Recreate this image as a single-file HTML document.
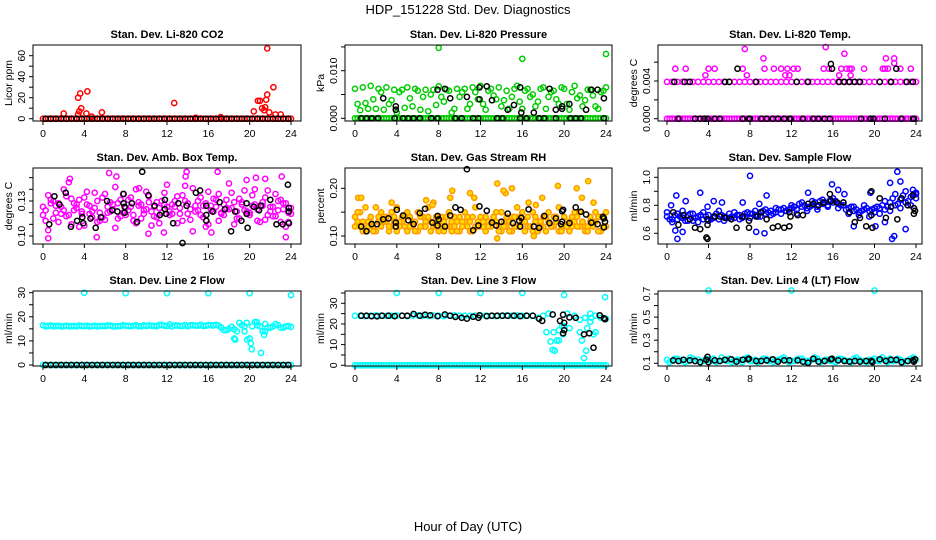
<!DOCTYPE html>
<html><head><meta charset="utf-8">
<style>
html,body{margin:0;padding:0;background:#fff;}
svg{display:block;font-family:"Liberation Sans",sans-serif;}
</style></head>
<body>
<svg id="chart" width="936" height="540" viewBox="0 0 936 540">
<text x="468" y="14" font-size="13" text-anchor="middle">HDP_151228  Std. Dev. Diagnostics</text>
<text x="468" y="531" font-size="13" text-anchor="middle">Hour of Day (UTC)</text>
</svg>
<script>
// ---------- data ----------
const zeros49 = [0,0,0,0,0,0,0,0,0,0,0,0,0,0,0,0,0,0,0,0,0,0,0,0,0,0,0,0,0,0,0,0,0,0,0,0,0,0,0,0,0,0,0,0,0,0,0,0,0];
const xTickLabels = [0,4,8,12,16,20,24];

// P1 CO2
const co2SpikeHours = [2,3.4,3.6,3.7,3.5,3.4,4.3,4.2,4.7,5.7,12.7,20.4,20.8,21,21.2,21.4,21.5,21.7,21.7,21.6,22.3,21.9,22.5,23,17.2,14.8];
const co2SpikeVals  = [5,20,24,10,7,4,26,5,2,6,15,7,17,17,10,8,11,67,23,18,30,6,4,4,1.5,1];

// P2 Pressure
const presA = [.0062,.0017,.0032,.0068,.0020,.0055,.0065,.0038,.0012,.0060,.0065,.0025,.0058,.0045,.0015,.0060,.0067,.0035,.0058,.0020,.0045,.0062,.0030,.0055,.0068,.0018,.0062,.0040,.0025,.0058,.0045,.0068,.0020,.0062,.0050,.0035,.0065,.0045,.0058,.0030,.0062,.0018,.0068,.0048,.0038,.0060,.0025,.0055,.0065];
const presB = [.0030,.0065,.0020,.0040,.0062,.0018,.0030,.0060,.0055,.0022,.0042,.0062,.0018,.0060,.0050,.0028,.0045,.0060,.0012,.0062,.0055,.0020,.0065,.0040,.0030,.0058,.0048,.0065,.0038,.0020,.0062,.0035,.0058,.0045,.0025,.0062,.0020,.0055,.0040,.0065,.0030,.0055,.0042,.0025,.0060,.0048,.0020,.0058];
const presOutHours = [8,16,24];
const presOutVals = [.0148,.0125,.0135];
const presBlkHours = [2.7,3.9,3.9,7.9,8.6,9.1,10.7,11.9,11.9,12.6,13.1,14.6,15.2,15.8,15.9,17.1,18.6,19.2,19.8,19.8,20.5,22.1,22.6,23.2,23.8,0.6,1.1,1.6,2.2,3.8,4.6,5.1,5.6,6.2,7.3,7.9,9.6,10.2,11.3,11.8,13.6,14.1,15.8,16.4,17.6,18.1,19.2,20.6,21.1,21.6,23.8];
const presBlkVals = [.0042,.0025,.0018,.006,.0062,.0042,.0045,.0065,.004,.0067,.0038,.0018,.0028,.0065,.0012,.0012,.0062,.0018,.0025,.002,.003,.0018,.006,.006,.0042,0,0,0,0,0,0,0,0,0,0,0,0,0,0,0,0,0,0,0,0,0,0,0,0,0,0];

// P3 Li-820 Temp
const tempBand = [.0039,.0039,.0039,.0039,.0039,.0039,.0039,.0039,.0039,.0039,.0039,.0039,.0039,.0039,.0039,.0039,.0039,.0039,.0039,.0039,.0039,.0039,.0039,.0039,.0039,.0039,.0039,.0039,.0039,.0039,.0039,.0039,.0039,.0039,.0039,.0039,.0039,.0039,.0039,.0039,.0039,.0039,.0039,.0039,.0039,.0039,.0039,.0039,.0039];
const tempOutHours = [0.8,1.8,3.7,4.0,4.6,7.3,7.5,7.7,9.3,9.4,10.3,11.0,11.4,11.6,11.8,12.2,12.6,15.1,15.3,15.6,16.6,16.8,17.1,17.3,17.6,17.7,17.8,19.0,20.8,21.1,21.0,21.3,21.9,21.9,22.5,23.5];
const tempOutVals = [.0053,.0053,.0046,.0053,.0053,.0053,.0074,.0046,.0064,.0053,.0053,.0053,.0046,.0053,.0046,.0053,.0053,.0053,.0076,.0053,.0046,.0053,.0069,.0053,.0053,.0046,.0053,.0053,.0053,.0064,.0053,.0053,.0064,.0059,.0053,.0053];
const tempBlkHours = [0.7,1.7,2.2,5.6,6.0,8.6,12.5,13.6,16.6,17.1,17.6,18.1,18.6,20.5,21.6,23.1,23.7,6.8,15.9,22.1,15.8,1.1,2.7,3.2,3.6,3.9,4.6,5.1,7.3,7.9,8.0,9.1,9.6,10.2,10.7,11.3,11.8,11.9,13.1,14.1,14.6,15.2,15.7,18.7,19.6,19.9,21.0,22.6,23.7,23.8];
const tempBlkVals = [.0039,.0039,.0039,.0039,.0039,.0039,.0039,.0039,.0039,.0039,.0039,.0039,.0039,.0039,.0039,.0039,.0039,.0053,.0053,.0053,.0058,0,0,0,0,0,0,0,0,0,0,0,0,0,0,0,0,0,0,0,0,0,0,0,0,0,0,0,0,0];

// P4 Amb Box Temp
const ambA = [.125,.135,.115,.128,.140,.118,.122,.131,.109,.126,.137,.120,.114,.129,.142,.117,.124,.133,.111,.127,.138,.121,.116,.130,.125,.119,.134,.113,.128,.141,.122,.126,.110,.132,.136,.118,.123,.129,.115,.139,.120,.127,.112,.133,.125,.117,.131,.108,.124];
const ambB = [.118,.105,.130,.112,.122,.146,.128,.108,.133,.119,.124,.113,.136,.121,.107,.131,.118,.125,.140,.115,.123,.109,.129,.120,.144,.127,.111,.135,.119,.104,.130,.116,.138,.121,.113,.127,.145,.110,.132,.122,.118,.140,.126,.114,.121,.136,.112,.128,.119];
const ambC = [.122,.128,.120,.125,.117,.132,.124,.119,.127,.121,.130,.116,.125,.123,.128,.120,.131,.118,.126,.122,.129,.117,.124,.127,.121,.125,.119,.130,.123,.126,.118,.128,.122,.125,.120,.131,.124,.121,.127,.119,.126,.123,.129,.118,.125,.122,.128,.120];
const ambD = [.113,.131,.126,.119,.134,.110,.127,.121,.138,.116,.112,.133,.120,.127,.115,.136,.122,.113,.129,.119,.134,.125,.111,.137,.118,.130,.124,.143,.114,.121,.133,.108,.126,.131,.119,.124,.137,.115,.129,.121,.135,.113,.126,.139,.117,.130,.123,.112];
const ambOutHours = [2.6,6.4,7.1,9.3,10.2,11.7,13.8,13.9,16.3,16.9,19.7,20.6,21.5,23.1,23.5,0.5,5.2];
const ambOutVals = [.149,.154,.151,.141,.102,.103,.151,.155,.103,.155,.148,.150,.149,.151,.099,.098,.099];
const ambBlkHours = [0.6,1.1,1.6,2.2,2.7,3.3,3.8,3.9,4.6,5.1,5.6,6.2,6.7,7.2,7.9,7.9,7.8,7.8,8.6,9.1,9.6,10.2,10.8,11.3,11.8,11.9,11.8,12.6,13.1,13.5,13.9,14.8,15.2,15.8,15.8,15.8,16.4,17.1,17.6,18.2,18.6,19.2,19.7,19.7,19.8,20.4,20.9,21.1,22.0,22.6,23.2,23.7,23.8,23.8,23.8];
const ambBlkVals = [.110,.134,.127,.137,.108,.113,.116,.111,.115,.107,.116,.130,.122,.121,.125,.120,.128,.136,.128,.112,.155,.135,.126,.118,.123,.119,.131,.111,.128,.094,.126,.137,.139,.126,.118,.113,.121,.129,.123,.104,.121,.113,.119,.128,.107,.125,.122,.126,.131,.110,.110,.144,.121,.124,.111];

// P5 Gas Stream RH
const rhA = [.14,.12,.16,.13,.11,.15,.13,.12,.16,.14,.11,.13,.15,.12,.14,.17,.11,.13,.15,.12,.14,.13,.11,.16,.12,.14,.13,.15,.11,.12,.14,.16,.13,.12,.15,.11,.14,.13,.12,.16,.14,.11,.13,.15,.12,.14,.13,.11,.15];
const rhB = [.12,.15,.11,.14,.16,.12,.14,.15,.11,.13,.15,.12,.11,.14,.16,.12,.13,.11,.12,.14,.11,.15,.13,.12,.14,.11,.12,.13,.15,.14,.11,.12,.15,.14,.11,.13,.12,.15,.14,.11,.12,.13,.15,.12,.11,.13,.15,.14,.12];
const rhC = [.13,.11,.13,.12,.14,.13,.11,.14,.13,.12,.14,.13,.12,.13,.11,.14,.12,.14,.13,.11,.13,.12,.14,.13,.12,.13,.14,.12,.13,.11,.14,.12,.13,.12,.14,.13,.11,.12,.14,.12,.13,.12,.14,.13,.12,.13,.11,.14];
const rhD = [.15,.13,.12,.11,.13,.14,.12,.13,.12,.14,.12,.11,.14,.12,.13,.12,.14,.12,.11,.13,.12,.14,.11,.12,.13,.12,.14,.11,.12,.13,.12,.14,.11,.12,.13,.12,.14,.12,.13,.11,.12,.14,.12,.13,.11,.12,.14,.12];
const rhOutHours = [0.3,0.6,3.5,6.8,7.4,9.3,9.1,11.0,11.4,13.6,14.4,14.2,15.0,16.6,17.3,17.9,19.4,21.2,21.7,22.3,22.8,13.6,17.1];
const rhOutVals = [.18,.18,.17,.175,.165,.195,.18,.19,.18,.21,.19,.195,.20,.17,.165,.18,.205,.20,.18,.215,.17,.095,.100];
const rhBlkHours = [0.6,1.1,1.6,2.1,2.7,3.2,3.9,3.9,4.0,4.6,5.1,5.6,6.2,6.7,7.4,7.9,8.0,7.9,8.6,9.1,9.6,10.1,11.3,11.8,11.9,12.6,13.1,13.5,14.0,14.6,15.1,15.7,15.8,15.9,16.6,17.1,17.6,18.1,18.6,19.2,19.7,19.8,19.8,19.9,20.5,21.1,21.6,22.1,22.6,23.2,23.7,23.8,23.8,23.9,10.7];
const rhBlkVals = [.12,.11,.125,.125,.135,.137,.128,.12,.155,.143,.133,.125,.148,.157,.128,.142,.135,.122,.12,.143,.16,.155,.112,.122,.162,.153,.128,.122,.13,.147,.127,.132,.12,.138,.156,.12,.117,.142,.127,.137,.125,.13,.152,.155,.127,.16,.151,.145,.128,.125,.14,.118,.137,.13,.24];

// P6 Sample Flow
const flowA = [.72,.70,.74,.71,.73,.69,.72,.70,.73,.71,.70,.72,.74,.71,.73,.72,.74,.73,.75,.74,.76,.75,.77,.76,.78,.77,.79,.78,.80,.79,.81,.80,.82,.81,.80,.78,.76,.75,.77,.76,.75,.78,.77,.82,.80,.84,.82,.86,.85];
const flowB = [.75,.68,.70,.76,.69,.74,.68,.75,.69,.72,.76,.69,.71,.75,.70,.74,.71,.76,.72,.77,.73,.78,.74,.76,.80,.74,.82,.76,.83,.77,.84,.79,.85,.78,.82,.74,.79,.73,.80,.72,.78,.74,.83,.76,.88,.78,.90,.80,.88];
const flowC = [.70,.73,.72,.69,.74,.71,.73,.72,.70,.74,.73,.71,.72,.73,.71,.75,.74,.72,.76,.75,.74,.77,.78,.77,.79,.81,.80,.79,.82,.83,.82,.84,.83,.80,.77,.79,.77,.76,.78,.77,.79,.80,.79,.85,.81,.87,.83,.88];
const flowOutHours = [0.4,0.9,1.0,1.5,1.8,0.8,3.2,3.9,4.5,5.3,7.3,8.0,8.6,9.4,9.6,8.9,13.6,15.9,16.5,17.1,18.0,19.6,20.1,21.0,21.5,21.7,21.9,22.2,22.5,23.0,23.7,24];
const flowOutVals = [.80,.87,.56,.61,.83,.62,.89,.79,.83,.82,.82,1.01,.61,.60,.87,.81,.89,.95,.91,.88,.65,.89,.65,.68,.96,.56,.58,1.04,.97,.63,.91,.89];
const flowBlkHours = [0.6,1.1,1.6,2.2,2.7,3.2,3.8,3.9,3.9,3.9,4.6,5.1,5.6,6.2,6.7,7.3,7.9,7.9,8.6,9.1,9.6,10.2,10.7,11.3,11.8,11.8,11.9,12.6,13.1,13.6,14.1,14.6,15.1,15.7,15.8,16.4,17.0,17.6,18.1,18.6,19.2,19.7,19.7,19.8,20.5,21.1,21.6,22.2,22.6,23.2,23.8,23.8,23.7,23.9];
const flowBlkVals = [.75,.66,.73,.70,.64,.63,.57,.56,.66,.70,.72,.72,.71,.70,.64,.72,.69,.64,.72,.75,.70,.64,.65,.64,.65,.75,.72,.73,.73,.81,.81,.80,.82,.88,.83,.82,.82,.75,.68,.71,.65,.73,.90,.64,.85,.71,.79,.70,.85,.80,.78,.74,.87,.76];

// P7 Line 2 Flow
const l2A = [16.5,16.2,16,16.3,16.1,16,16.2,16.4,16.1,16,16.3,16.2,16.1,16.4,16,16.2,16.3,16.1,16.5,16,16.2,16.3,16.1,16.6,16.2,16,16.4,16.2,16.1,16.5,16.3,16.2,16.6,16.4,16.3,14.5,15,14.8,17.5,16,11,17.8,16,14,15.5,17,15.5,16,15.8];
const l2B = [16,16.4,16.2,16,16.3,16.1,16,16.2,16.3,16.1,16,16.2,16.4,16,16.1,16.5,16.2,16.3,16.1,16.5,16.4,16.2,16.6,16.3,16.8,16.4,16.2,16.6,16.5,16.4,16.7,16.3,16.5,16.7,15.5,14.5,15.8,14,16.5,10.5,16,16.5,14,15.5,16,16.5,15.5,16.2];
const l2OutHours = [4,8,12,16,20,24,18.5,18.6,20,20.1,20.2,21.1,21.4,20.7,21.5,19.7,19.5];
const l2OutVals = [30,29.8,29.8,29.8,29.8,29,11,10.5,11,9,6.5,5,12.5,17.8,17,17.5,14];

// P8 Line 3 Flow
const l3A = [24,24,23.8,24,24.2,24,23.9,24,24.1,24,23.8,24,24.2,24,23.9,24.1,24,23.8,24,24.2,24,24,23.9,24,24.1,24,24,23.8,24,24.1,24,24.2,23.9,24,24,23,24,25,16,12,19,18,24,22,23,21,24,23,22.5];
const l3OutHours = [18.3,18.7,18.9,19.1,19.3,19.5,19.8,19.9,20.3,21.5,21.7,21.9,22.1,22.2,22.5,22.8,23.0,22.6,23.9,4,8,12,16,20];
const l3OutVals = [16,11.5,7.5,7,12,17,19,15,25,16,12,3.5,7,18,25,15,16,23,33,35,35,35,35,34];
const l3BlkHours = [0.6,1.1,1.6,2.1,2.6,3.2,3.8,4.5,5,5.6,6.2,6.7,7.2,7.9,8.6,9.1,9.6,10.2,10.7,11.3,11.8,11.9,12.6,13.1,13.6,14.1,14.6,15.2,15.8,16.4,17.0,17.6,17.9,18.9,19.6,19.9,20.0,20.0,19.9,20.5,21.1,21.9,22.4,22.8,23.4,23.8,23.9];
const l3BlkVals = [24,24,23.8,23.7,24,24,23.8,24,24,24.8,24,24.5,24.2,23.8,24.6,24,23.4,23,22.6,23.5,23,24.2,23.8,24,24,24,24,24,23.8,24,24,22.5,21.5,24.6,21.5,24.5,20.5,17,15.5,23.2,23,15,15.5,8.5,24.2,22.8,22.3];

// P9 Line 4 Flow
const l4A = [.13,.12,.14,.13,.12,.14,.13,.12,.13,.14,.12,.13,.14,.12,.13,.14,.12,.13,.12,.14,.13,.12,.14,.13,.12,.13,.14,.12,.13,.14,.12,.13,.12,.14,.13,.12,.14,.13,.12,.13,.14,.12,.13,.14,.12,.13,.12,.14,.13];
const l4B = [.11,.14,.12,.11,.15,.12,.11,.14,.12,.11,.15,.12,.11,.13,.11,.15,.12,.11,.14,.12,.11,.13,.15,.11,.12,.14,.11,.12,.15,.11,.13,.12,.11,.14,.12,.11,.15,.12,.11,.13,.12,.15,.11,.12,.14,.11,.12,.15];
const l4OutHours = [4,12,20];
const l4OutVals = [.73,.73,.73];
const l4BlkHours = [0.6,1.1,1.6,2.2,2.7,3.2,3.8,3.9,4.0,4.6,5.1,5.6,6.2,6.7,7.3,7.8,7.9,8.6,9.1,9.6,10.2,10.7,11.3,11.8,12.6,13.1,13.6,14.1,14.6,15.2,15.8,15.9,16.5,17.1,17.6,18.1,18.6,19.2,19.7,19.8,20.5,21.1,21.6,22.1,22.6,23.2,23.7,23.8,23.9];
const l4BlkVals = [.125,.12,.13,.125,.12,.11,.13,.155,.11,.125,.12,.13,.135,.115,.13,.135,.14,.12,.12,.125,.135,.115,.125,.125,.125,.115,.105,.14,.115,.12,.135,.14,.125,.12,.115,.12,.115,.12,.12,.11,.135,.12,.13,.13,.11,.12,.125,.115,.135];

// ---------- drawing ----------
const NS = "http://www.w3.org/2000/svg";
const svg = document.getElementById("chart");
function mk(tag, attrs, parent){ const e=document.createElementNS(NS,tag); for(const k in attrs) e.setAttribute(k,attrs[k]); (parent||svg).appendChild(e); return e; }
function gridHours(arr, offset){ return arr.map((_,i)=>offset + i*0.5); }

const cols = [{l:33,r:301,x0:43,x24:291},{l:345,r:612,x0:355,x24:606},{l:658,r:922,x0:667,x24:916}];
const rows = [{t:45,b:121},{t:168,b:244},{t:291,b:366}];

function drawPanel(p){
  const c = cols[p.col], rw = rows[p.row];
  const g = mk("g",{});
  
  
  const xs = h => c.x0 + (c.x24-c.x0)*h/24;
  const ys = v => p.yA[1] + (p.yB[1]-p.yA[1])*(v-p.yA[0])/(p.yB[0]-p.yA[0]);
  p.series.forEach(s=>{
    const sg = mk("g",{},g);
    
    
    s.vals.forEach((v,i)=>{
      const cx = xs(s.hours[i]), cy = ys(v);
      const ci = mk("circle",{cx:cx.toFixed(1),cy:cy.toFixed(1),r:2.6,fill:s.fill||"none",stroke:s.color,"stroke-width":1.5},sg);
      
      
    });
  });
  const box = mk("rect",{x:c.l,y:rw.t,width:c.r-c.l,height:rw.b-rw.t,fill:"none",stroke:"#000","stroke-width":1},g);
  
  
  xTickLabels.forEach(h=>{
    const x = xs(h);
    mk("line",{x1:x,x2:x,y1:rw.b,y2:rw.b+4,stroke:"#000"},g);
    const t = mk("text",{x:x,y:rw.b+16,"font-size":10.5,"text-anchor":"middle"},g);
    t.textContent = h;
    
    
  });
  p.yTicks.forEach(v=>{
    const y = ys(v);
    mk("line",{x1:c.l-4,x2:c.l,y1:y,y2:y,stroke:"#000"},g);
  });
  p.yLabels.forEach((lab,i)=>{
    const y = ys(p.yLabelVals[i]);
    const t = mk("text",{x:0,y:0,"font-size":10.5,"text-anchor":"middle",transform:`translate(${c.l-8},${y}) rotate(-90)`},g);
    t.textContent = lab;
    
    
  });
  const yl = mk("text",{x:0,y:0,"font-size":10.5,"text-anchor":"middle",transform:`translate(${c.l-21},${(rw.t+rw.b)/2}) rotate(-90)`},g);
  yl.textContent = p.ylab;
  
  
  const ti = mk("text",{x:(c.l+c.r)/2,y:rw.t-7,"font-size":11,"font-weight":"bold","text-anchor":"middle"},g);
  ti.textContent = p.title;
  
  
}

const G0 = gridHours(zeros49,0);
const H49 = gridHours(zeros49,0);
const H48 = gridHours(zeros49.slice(0,48),0.25);

drawPanel({name:"panel-co2",col:0,row:0,title:"Stan. Dev. Li-820 CO2",ylab:"Licor ppm",yA:[0,118.7],yB:[60,55.7],
  yTicks:[0,10,20,30,40,50,60],yLabels:["0","20","40","60"],yLabelVals:[0,20,40,60],
  series:[{name:"co2-red-baseline",hours:G0,vals:zeros49,color:"#ff0000"},
          {name:"co2-red-baseline-offset",hours:H48,vals:zeros49.slice(0,48),color:"#ff0000"},
          {name:"co2-red-spikes",hours:co2SpikeHours,vals:co2SpikeVals,color:"#ff0000"},
          {name:"co2-black-baseline",hours:H48,vals:zeros49.slice(0,48),color:"#000"}]});

drawPanel({name:"panel-pressure",col:1,row:0,title:"Stan. Dev. Li-820 Pressure",ylab:"kPa",yA:[0,118.3],yB:[0.010,70.7],
  yTicks:[0,0.005,0.010,0.015],yLabels:["0.000","0.010"],yLabelVals:[0,0.010],
  series:[{name:"pressure-green-baseline",hours:G0,vals:zeros49,color:"#00cc00"},
          {name:"pressure-green-baseline-offset",hours:H48,vals:zeros49.slice(0,48),color:"#00cc00"},
          {name:"pressure-green-a",hours:H49,vals:presA,color:"#00cc00"},
          {name:"pressure-green-b",hours:H48,vals:presB,color:"#00cc00"},
          {name:"pressure-green-outliers",hours:presOutHours,vals:presOutVals,color:"#00cc00"},
          {name:"pressure-black",hours:presBlkHours,vals:presBlkVals,color:"#000"}]});

drawPanel({name:"panel-li820-temp",col:2,row:0,title:"Stan. Dev. Li-820 Temp.",ylab:"degrees C",yA:[0,118.7],yB:[0.004,81],
  yTicks:[0,0.002,0.004,0.006],yLabels:["0.000","0.004"],yLabelVals:[0,0.004],
  series:[{name:"temp-magenta-zero",hours:G0,vals:zeros49,color:"#ff00ff"},
          {name:"temp-magenta-zero-offset",hours:H48,vals:zeros49.slice(0,48),color:"#ff00ff"},
          {name:"temp-magenta-band",hours:H49,vals:tempBand,color:"#ff00ff"},
          {name:"temp-magenta-outliers",hours:tempOutHours,vals:tempOutVals,color:"#ff00ff"},
          {name:"temp-black",hours:tempBlkHours,vals:tempBlkVals,color:"#000"}]});

drawPanel({name:"panel-amb-box-temp",col:0,row:1,title:"Stan. Dev. Amb. Box Temp.",ylab:"degrees C",yA:[0.10,236],yB:[0.13,201],
  yTicks:[0.10,0.11,0.12,0.13,0.14,0.15],yLabels:["0.10","0.13"],yLabelVals:[0.10,0.13],
  series:[{name:"amb-magenta-a",hours:H49,vals:ambA,color:"#ff00ff"},
          {name:"amb-magenta-b",hours:H49,vals:ambB,color:"#ff00ff"},
          {name:"amb-magenta-c",hours:H48,vals:ambC,color:"#ff00ff"},
          {name:"amb-magenta-d",hours:H48,vals:ambD,color:"#ff00ff"},
          {name:"amb-magenta-outliers",hours:ambOutHours,vals:ambOutVals,color:"#ff00ff"},
          {name:"amb-black",hours:ambBlkHours,vals:ambBlkVals,color:"#000"}]});

drawPanel({name:"panel-gas-stream-rh",col:1,row:1,title:"Stan. Dev. Gas Stream RH",ylab:"percent",yA:[0.10,236],yB:[0.20,188.3],
  yTicks:[0.10,0.15,0.20],yLabels:["0.10","0.20"],yLabelVals:[0.10,0.20],
  series:[{name:"rh-orange-a",hours:H49,vals:rhA,color:"#ff9900",fill:"#ffdd00"},
          {name:"rh-orange-b",hours:H49,vals:rhB,color:"#ff9900",fill:"#ffdd00"},
          {name:"rh-orange-c",hours:H48,vals:rhC,color:"#ff9900",fill:"#ffdd00"},
          {name:"rh-orange-d",hours:H48,vals:rhD,color:"#ff9900",fill:"#ffdd00"},
          {name:"rh-orange-outliers",hours:rhOutHours,vals:rhOutVals,color:"#ff9900",fill:"#ffdd00"},
          {name:"rh-black",hours:rhBlkHours,vals:rhBlkVals,color:"#000"}]});

drawPanel({name:"panel-sample-flow",col:2,row:1,title:"Stan. Dev. Sample Flow",ylab:"ml/min",yA:[0.6,233.3],yB:[1.0,177.3],
  yTicks:[0.6,0.7,0.8,0.9,1.0],yLabels:["0.6","0.8","1.0"],yLabelVals:[0.6,0.8,1.0],
  series:[{name:"flow-blue-a",hours:H49,vals:flowA,color:"#0000ff"},
          {name:"flow-blue-b",hours:H49,vals:flowB,color:"#0000ff"},
          {name:"flow-blue-c",hours:H48,vals:flowC,color:"#0000ff"},
          {name:"flow-blue-outliers",hours:flowOutHours,vals:flowOutVals,color:"#0000ff"},
          {name:"flow-black",hours:flowBlkHours,vals:flowBlkVals,color:"#000"}]});

drawPanel({name:"panel-line2-flow",col:0,row:2,title:"Stan. Dev. Line 2 Flow",ylab:"ml/min",yA:[0,365],yB:[30,292.7],
  yTicks:[0,5,10,15,20,25,30],yLabels:["0","10","20","30"],yLabelVals:[0,10,20,30],
  series:[{name:"line2-cyan-a",hours:H49,vals:l2A,color:"#00ffff"},
          {name:"line2-cyan-b",hours:H48,vals:l2B,color:"#00ffff"},
          {name:"line2-cyan-outliers",hours:l2OutHours,vals:l2OutVals,color:"#00ffff"},
          {name:"line2-cyan-zero",hours:G0,vals:zeros49,color:"#00ffff"},
          {name:"line2-black-zero",hours:H48,vals:zeros49.slice(0,48),color:"#000"}]});

drawPanel({name:"panel-line3-flow",col:1,row:2,title:"Stan. Dev. Line 3 Flow",ylab:"ml/min",yA:[0,365.3],yB:[30,303.3],
  yTicks:[0,5,10,15,20,25,30,35],yLabels:["0","10","20","30"],yLabelVals:[0,10,20,30],
  series:[{name:"line3-cyan-band",hours:H49,vals:l3A,color:"#00ffff"},
          {name:"line3-cyan-outliers",hours:l3OutHours,vals:l3OutVals,color:"#00ffff"},
          {name:"line3-cyan-zero",hours:G0,vals:zeros49,color:"#00ffff"},
          {name:"line3-cyan-zero-offset",hours:H48,vals:zeros49.slice(0,48),color:"#00ffff"},
          {name:"line3-black",hours:l3BlkHours,vals:l3BlkVals,color:"#000"}]});

drawPanel({name:"panel-line4-flow",col:2,row:2,title:"Stan. Dev. Line 4 (LT) Flow",ylab:"ml/min",yA:[0.1,363.3],yB:[0.7,294],
  yTicks:[0.1,0.2,0.3,0.4,0.5,0.6,0.7],yLabels:["0.1","0.3","0.5","0.7"],yLabelVals:[0.1,0.3,0.5,0.7],
  series:[{name:"line4-cyan-a",hours:H49,vals:l4A,color:"#00ffff"},
          {name:"line4-cyan-b",hours:H48,vals:l4B,color:"#00ffff"},
          {name:"line4-cyan-outliers",hours:l4OutHours,vals:l4OutVals,color:"#00ffff"},
          {name:"line4-black",hours:l4BlkHours,vals:l4BlkVals,color:"#000"}]});
</script>
</body></html>
